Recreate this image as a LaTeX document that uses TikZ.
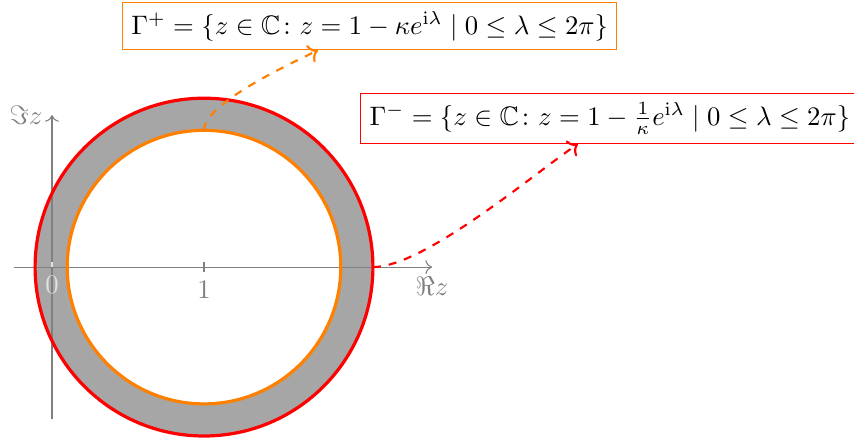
\documentclass[tikz,border=0pt]{standalone}
\usepackage{amsmath,amssymb}
\usepackage{xcolor}
\usepackage{tikz}
\usetikzlibrary{calc,arrows.meta,positioning}
\definecolor{ringGray}{RGB}{166,166,166}
\definecolor{ringRed}{RGB}{255,0,0}
\definecolor{ringOrange}{RGB}{255,128,0}
\definecolor{axisGray}{RGB}{128,128,128}
\definecolor{zeroGray}{RGB}{225,225,225}

\begin{document}
\begin{tikzpicture}[x=2cm,y=2cm]
\useasboundingbox (-0.342,-1.138) rectangle (5.276,1.757);
\pgfmathsetmacro{\kap}{0.9}
\pgfmathsetmacro{\rin}{\kap}
\pgfmathsetmacro{\rout}{1/\kap}
\fill[ringGray] (1,0) circle (\rout);
\fill[white] (1,0) circle (\rin);
\draw[axisGray, ->] (-0.25,0)--(2.5,0) node[below] (re) {$\Re z$};
\draw[axisGray, ->] (0,-1)--(0,1) node[left] (im) {$\Im z$};
\draw[zeroGray] (0,0.033)--(0,0) node[below] (zero) {$0$};
\draw[axisGray] (1,0.033)--(1,-0.033) node[below] (one) {$1$};
\draw[ringRed, very thick] (1,0) circle (\rout);
\draw[ringOrange, very thick] (1,0) circle (\rin);
\coordinate (pTop) at (1,\rin);
\coordinate (pRight) at ({1+\rout},0);
\node[draw=ringOrange] (gammaPlus) at (2.09,1.585)
  {$\Gamma^+ = \{z \in \mathbb{C}\colon z = 1 - \kappa e^{\mathrm{i}\lambda} \mid 0 \leq \lambda \leq 2\pi\}$};
\node[draw=ringRed] (gammaMinus) at (3.67,0.977)
  {$\Gamma^- = \{z \in \mathbb{C}\colon z = 1 - \tfrac{1}{\kappa} e^{\mathrm{i}\lambda} \mid 0 \leq \lambda \leq 2\pi\}$};
\draw[ringOrange, thick, dashed, ->] (pTop) to[out=90, in=206, looseness=0.5] ($(gammaPlus.south)+(-0.34,0)$);
\draw[ringRed, thick, dashed, ->] (pRight) to[out=0, in=214, looseness=0.55] ($(gammaMinus.south)+(-0.21,0)$);
\end{tikzpicture}
\end{document}
